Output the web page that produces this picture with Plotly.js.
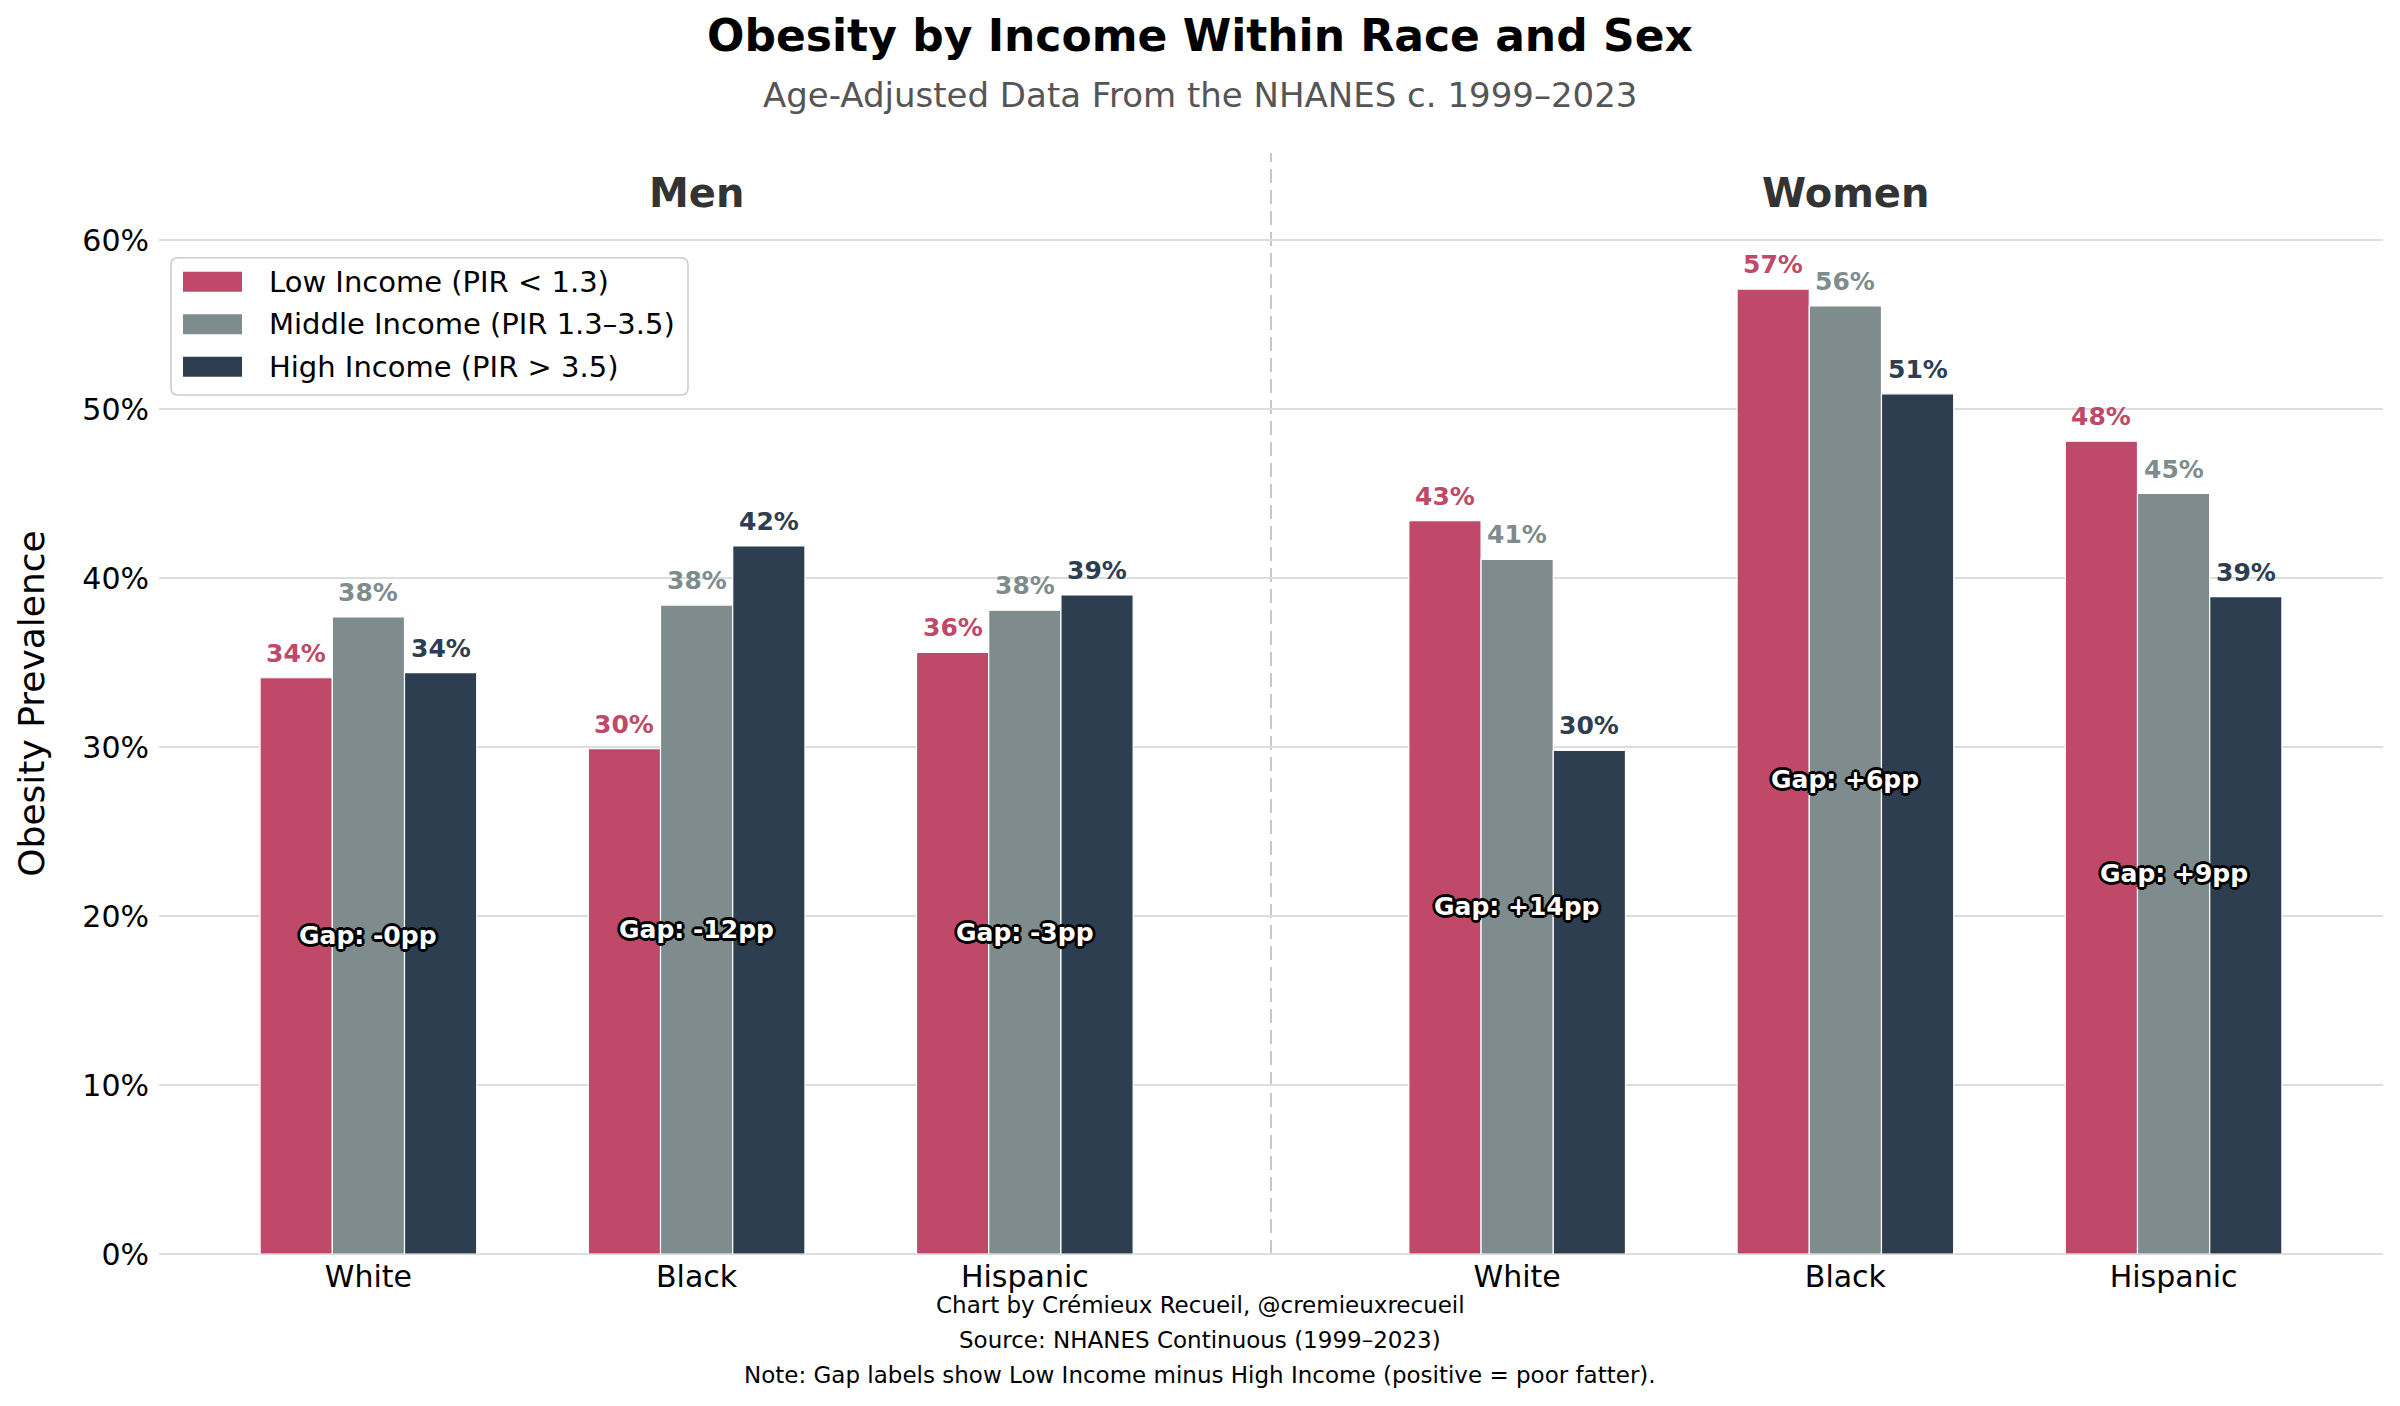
<!DOCTYPE html>
<html>
<head>
<meta charset="utf-8">
<script src="https://cdn.plot.ly/plotly-3.0.1.min.js"></script>
<style>html,body{margin:0;padding:0;background:#fff;}#chart{width:2400px;height:1406px;}</style>
</head>
<body>
<div id="chart"></div>
<script>
// ---------- data ----------
const sexes = ['Men', 'Men', 'Men', 'Women', 'Women', 'Women'];
const races = ['White', 'Black', 'Hispanic', 'White', 'Black', 'Hispanic'];
const lowIncome = [34.1, 29.9, 35.6, 43.4, 57.1, 48.1];
const middleIncome = [37.7, 38.4, 38.1, 41.1, 56.1, 45.0];
const highIncome = [34.4, 41.9, 39.0, 29.8, 50.9, 38.9];
const seriesNames = ['Low Income (PIR < 1.3)', 'Middle Income (PIR 1.3–3.5)', 'High Income (PIR > 3.5)'];
const sexLabels = ['Men', 'Women'];
const yTickVals = [0, 10, 20, 30, 40, 50, 60];
const yTickText = ['0%', '10%', '20%', '30%', '40%', '50%', '60%'];
const footerLines = [
  'Chart by Crémieux Recueil, @cremieuxrecueil',
  'Source: NHANES Continuous (1999–2023)',
  'Note: Gap labels show Low Income minus High Income (positive = poor fatter).'
];

// ---------- styling / layout ----------
const colors = ['#C0496A', '#7F8C8D', '#2C3E50'];
const FONT = 'DejaVu Sans, sans-serif';
const W = 2400, H = 1406, ML = 159, MR = 17, MT = 153, MB = 152;
const PW = W - ML - MR, PH = H - MT - MB;
const px = x => (x - ML) / PW;
const py = y => (H - MB - y) / PH;

// group positions: sexes separated by an extra half step
const positions = races.map((r, i) => {
  const sexIdx = sexLabels.indexOf(sexes[i]);
  const within = sexes.slice(0, i).filter(s => s === sexes[i]).length;
  return within + sexIdx * 3.5;
});
const groupCenters = sexLabels.map(s => {
  const p = positions.filter((_, i) => sexes[i] === s);
  return (Math.min(...p) + Math.max(...p)) / 2;
});
const dividerX = (positions[2] + positions[3]) / 2;

const allSeries = [lowIncome, middleIncome, highIncome];
const barW = 0.22;
const offsets = [-barW, 0, barW];

const traces = allSeries.map((vals, k) => ({
  type: 'bar',
  name: seriesNames[k],
  x: positions,
  y: vals,
  marker: {color: colors[k], line: {color: '#ffffff', width: 1.2}},
  showlegend: false,
  hoverinfo: 'skip'
}));

const annotations = [];
// value labels
allSeries.forEach((vals, k) => {
  vals.forEach((v, i) => {
    annotations.push({
      x: positions[i] + offsets[k], y: v, xref: 'x', yref: 'y',
      text: '<b>' + Math.round(v) + '%</b>',
      showarrow: false, yanchor: 'bottom', xanchor: 'center', yshift: 8,
      font: {family: FONT, size: 25, color: colors[k]}
    });
  });
});
// gap labels
positions.forEach((p, i) => {
  const g = lowIncome[i] - highIncome[i];
  const txt = 'Gap: ' + (g < 0 ? '-' : '+') + Math.round(Math.abs(g)) + 'pp';
  annotations.push({
    x: p, y: middleIncome[i] / 2, xref: 'x', yref: 'y',
    text: '<b>' + txt + '</b>', showarrow: false, xanchor: 'center', yanchor: 'middle',
    font: {family: FONT, size: 25, color: '#ffffff',
      shadow: '3px 0 0 #000, -3px 0 0 #000, 0 3px 0 #000, 0 -3px 0 #000, 2px 2px 0 #000, -2px -2px 0 #000, 2px -2px 0 #000, -2px 2px 0 #000'}
  });
});
// sex headers
sexLabels.forEach((s, j) => {
  annotations.push({
    x: groupCenters[j], y: py(193), xref: 'x', yref: 'paper',
    text: '<b>' + s + '</b>', showarrow: false, xanchor: 'center', yanchor: 'middle',
    font: {family: FONT, size: 40, color: '#333333'}
  });
});
// subtitle
annotations.push({
  x: px(1200), y: py(95), xref: 'paper', yref: 'paper',
  text: 'Age-Adjusted Data From the NHANES c. 1999–2023', showarrow: false,
  xanchor: 'center', yanchor: 'middle',
  font: {family: FONT, size: 34, color: '#555555'}
});
// footer
[1305, 1340, 1375].forEach((yy, i) => {
  annotations.push({
    x: px(1200), y: py(yy), xref: 'paper', yref: 'paper',
    text: footerLines[i], showarrow: false, xanchor: 'center', yanchor: 'middle',
    font: {family: FONT, size: 23, color: '#000000'}
  });
});

// divider + custom legend
const shapes = [];
shapes.push({
  type: 'line', xref: 'x', yref: 'paper', x0: dividerX, x1: dividerX, y0: 0, y1: 1,
  line: {color: '#bbbbbb', width: 1.6, dash: '14px,7px'}, layer: 'below'
});
const bx0 = px(171), bx1 = px(688), byt = py(257.7), byb = py(395);
const rx = 7 / PW, ry = 7 / PH;
shapes.push({
  type: 'path', xref: 'paper', yref: 'paper',
  path: `M ${bx0 + rx},${byt} L ${bx1 - rx},${byt} Q ${bx1},${byt} ${bx1},${byt - ry} L ${bx1},${byb + ry} Q ${bx1},${byb} ${bx1 - rx},${byb} L ${bx0 + rx},${byb} Q ${bx0},${byb} ${bx0},${byb + ry} L ${bx0},${byt - ry} Q ${bx0},${byt} ${bx0 + rx},${byt} Z`,
  fillcolor: 'rgba(255,255,255,0.9)', line: {color: '#cccccc', width: 1.6}
});
const rows = [281.7, 324.3, 366.7];
seriesNames.forEach((n, k) => {
  shapes.push({
    type: 'rect', xref: 'paper', yref: 'paper',
    x0: px(183), x1: px(242), y0: py(rows[k] + 10), y1: py(rows[k] - 10),
    fillcolor: colors[k], line: {width: 0}
  });
  annotations.push({
    x: px(267), y: py(rows[k]), xref: 'paper', yref: 'paper',
    text: n, showarrow: false, xanchor: 'left', yanchor: 'middle',
    font: {family: FONT, size: 29, color: '#000000'}
  });
});

const layout = {
  width: W, height: H,
  margin: {l: ML, r: MR, t: MT, b: MB, pad: 0},
  paper_bgcolor: '#ffffff', plot_bgcolor: '#ffffff',
  font: {family: FONT, color: '#000000'},
  title: {
    text: '<b>Obesity by Income Within Race and Sex</b>',
    x: 0.5, xref: 'container', xanchor: 'center',
    y: 1 - 35.5 / H, yref: 'container', yanchor: 'middle',
    font: {family: FONT, size: 44, color: '#000000'}
  },
  barmode: 'group', bargap: 0.34, bargroupgap: 0,
  xaxis: {
    range: [-0.638, 6.138], tickvals: positions, ticktext: races,
    showgrid: false, zeroline: false, showline: false, ticks: '',
    tickfont: {family: FONT, size: 30, color: '#000000'}, ticklabelstandoff: 2
  },
  yaxis: {
    range: [0, 65.15], tickvals: yTickVals, ticktext: yTickText,
    showgrid: true, gridcolor: '#dddddd', gridwidth: 1.5,
    zeroline: true, zerolinecolor: '#dddddd', zerolinewidth: 1.5,
    showline: false, ticks: '',
    tickfont: {family: FONT, size: 30, color: '#000000'}, ticklabelstandoff: 9,
    title: {text: 'Obesity Prevalence', font: {family: FONT, size: 36, color: '#000000'}, standoff: 26}
  },
  shapes: shapes,
  annotations: annotations,
  showlegend: false
};

Plotly.newPlot('chart', traces, layout, {displayModeBar: false, staticPlot: true});
</script>
</body>
</html>
